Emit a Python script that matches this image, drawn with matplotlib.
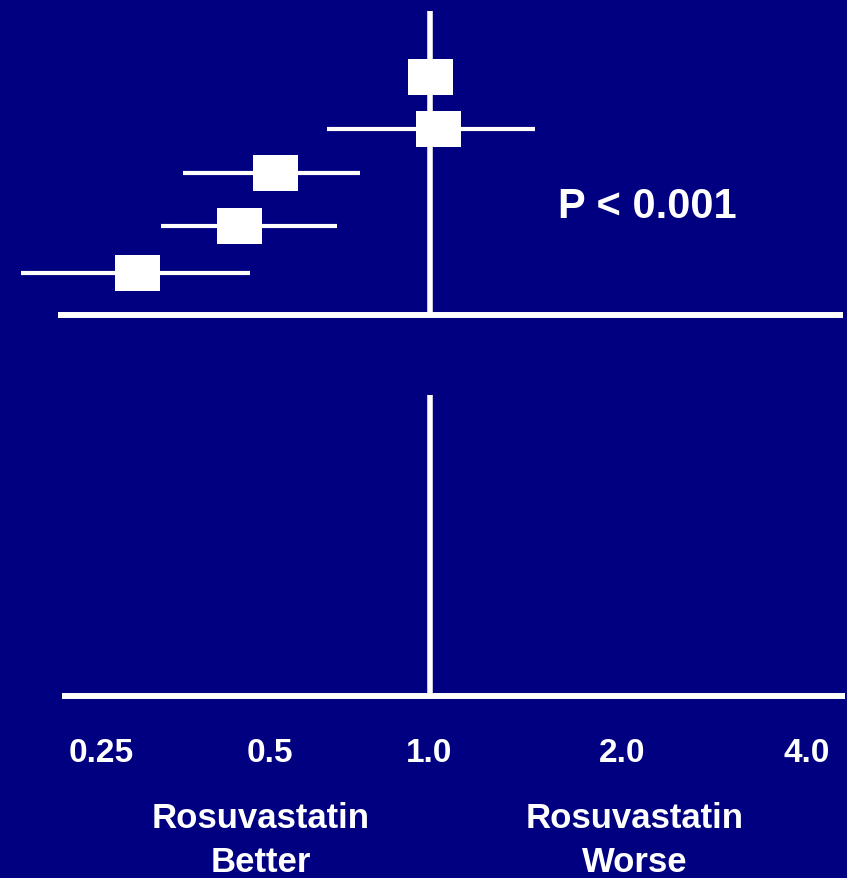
import numpy as np
import matplotlib.pyplot as plt
from matplotlib.path import Path

# hazard ratios with 95% CI, top row first
hr = [1.0, 1.03, 0.51, 0.44, 0.29]
ci_lo = [1.0, 0.64, 0.35, 0.32, 0.18]
ci_hi = [1.0, 1.46, 0.74, 0.67, 0.46]
row_y = [77.5, 130, 173.5, 227, 274]

tick_vals = [0.25, 0.5, 1.0, 2.0, 4.0]
tick_labels = ['0.25', '0.5', '1.0', '2.0', '4.0']
p_text = 'P < 0.001'

bg = '#000080'
fg = 'white'
plt.rcParams['font.family'] = ['Liberation Sans', 'DejaVu Sans']

# slide axis: each doubling is spaced by hand, so use a piecewise log scale
knots = np.array([-6, -2, -1, 0, 1, 2, 6], dtype=float)
tick_px = np.array([101, 270, 429.5, 622, 807], dtype=float)
px = np.concatenate([[tick_px[0] - 4 * 169], tick_px, [tick_px[-1] + 4 * 185]])


def fwd(x):
    x = np.maximum(np.asarray(x, dtype=float), 1e-12)
    return np.interp(np.log2(x), knots, px)


def inv(p):
    return 2.0 ** np.interp(np.asarray(p, dtype=float), px, knots)


fig = plt.figure(figsize=(8.47, 8.79), dpi=100, facecolor=bg)
ax = fig.add_axes([0, 0, 1, 1])
ax.set_facecolor(bg)
ax.set_xscale('function', functions=(fwd, inv))
ax.set_xlim(inv(0), inv(847))
ax.set_ylim(879, 0)
ax.axis('off')

# reference lines at HR = 1 and the two baselines
ax.vlines(1.0, 12, 316, color=fg, lw=4.0, zorder=1)
ax.vlines(1.0, 396, 697, color=fg, lw=4.0, zorder=1)
xt = ax.get_yaxis_transform()
ax.plot([58 / 847, 843 / 847], [316, 316], color=fg, lw=4.3,
        transform=xt, solid_capstyle='butt')
ax.plot([62 / 847, 845 / 847], [697, 697], color=fg, lw=4.3,
        transform=xt, solid_capstyle='butt')

# confidence intervals and point estimates
ax.hlines(row_y, ci_lo, ci_hi, color=fg, lw=3.0, zorder=2)
box = Path([(-1, -0.82), (1, -0.82), (1, 0.82), (-1, 0.82), (-1, -0.82)],
           [Path.MOVETO, Path.LINETO, Path.LINETO, Path.LINETO, Path.CLOSEPOLY])
ax.plot(hr, row_y, ls='none', marker=box, ms=32.4, color=fg,
        mec=fg, mew=0, zorder=3)

ax.text(inv(647), 218, p_text, color=fg, fontsize=30, fontweight='bold',
        ha='center', va='baseline')

for v, lab in zip(tick_vals, tick_labels):
    ax.text(v, 762, lab, color=fg, fontsize=24, fontweight='bold',
            ha='center', va='baseline')

for x, lines in [(261, ['Rosuvastatin', 'Better']), (635, ['Rosuvastatin', 'Worse'])]:
    ax.text(inv(x), 828, lines[0], color=fg, fontsize=25, fontweight='bold',
            ha='center', va='baseline')
    ax.text(inv(x), 872, lines[1], color=fg, fontsize=25, fontweight='bold',
            ha='center', va='baseline')

fig.savefig('out.png', dpi=100, facecolor=bg)
